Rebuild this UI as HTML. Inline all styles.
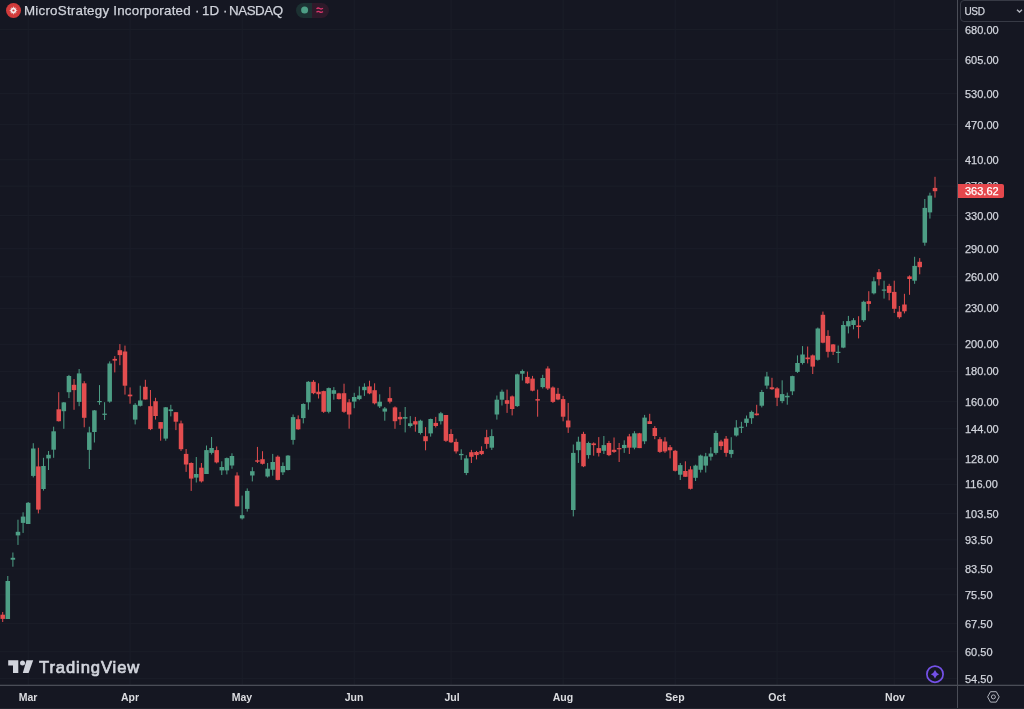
<!DOCTYPE html>
<html><head><meta charset="utf-8">
<style>
html,body{margin:0;padding:0;}
.pl,.ml,.tt,#tv,#usd,#lastp{will-change:transform;}
.pl,.tt,#usd,#lastp{-webkit-text-stroke:0.25px currentColor;}
body{width:1024px;height:709px;overflow:hidden;background:#151722;position:relative;font-family:"Liberation Sans",sans-serif;}
#chart{position:absolute;left:0;top:0;}
.pl{position:absolute;left:965px;height:14px;line-height:14px;font-size:11px;color:#d1d4dc;white-space:nowrap;}
.ml{position:absolute;top:690px;width:40px;text-align:center;height:14px;line-height:14px;font-size:10.5px;font-weight:bold;color:#dcdde1;}
#vdiv{position:absolute;left:957px;top:0;width:1px;height:709px;background:#4a4d57;}
#hdiv{position:absolute;left:0;top:685px;width:1024px;height:1px;background:#4a4d57;box-shadow:0 -1px 0 rgba(74,77,87,0.3);}
.tt{position:absolute;top:2px;height:18px;line-height:18px;font-size:13.35px;color:#d1d4dc;white-space:nowrap;}
#logoc{position:absolute;left:6px;top:2.5px;width:15px;height:15px;border-radius:50%;background:#d23b3b;}
#pill{position:absolute;left:295.5px;top:2.5px;width:33px;height:15px;border-radius:7.5px;overflow:hidden;}
#pill .a{position:absolute;left:0;top:0;width:16.5px;height:15px;background:#1c3132;}
#pill .b{position:absolute;left:16.5px;top:0;width:16.5px;height:15px;background:#2e1a2a;}
#usd{position:absolute;left:959.6px;top:0.3px;width:70px;height:21.6px;border:1px solid #373a45;border-radius:4px;box-sizing:border-box;}
#usd span{position:absolute;left:3.4px;top:4.2px;font-size:10px;letter-spacing:-0.25px;line-height:14px;color:#d1d4dc;}
#lastp{position:absolute;left:958px;top:183.5px;width:46px;height:14px;background:#e5484d;border-radius:0 2px 2px 0;}
#lastp span{position:absolute;left:7px;top:0;line-height:14px;font-size:11px;color:#fff;}
#tv{position:absolute;left:39px;top:656.8px;font-size:16.6px;font-weight:normal;-webkit-text-stroke:0.7px #d1d4dc;color:#d1d4dc;line-height:22px;letter-spacing:0.9px;}
#bstrip{position:absolute;left:0;top:708px;width:1024px;height:1px;background:#22252f;}
</style></head><body>
<svg id="chart" width="957" height="685" viewBox="0 0 957 685" >
<rect x="0" y="29.1" width="957" height="1" fill="#1b1e29"/><rect x="0" y="59.1516650668236" width="957" height="1" fill="#1b1e29"/><rect x="0" y="93.18584081610763" width="957" height="1" fill="#1b1e29"/><rect x="0" y="124.08095060629415" width="957" height="1" fill="#1b1e29"/><rect x="0" y="159.20134943302287" width="957" height="1" fill="#1b1e29"/><rect x="0" y="185.59886514957347" width="957" height="1" fill="#1b1e29"/><rect x="0" y="215.0194869549304" width="957" height="1" fill="#1b1e29"/><rect x="0" y="248.24628370501395" width="957" height="1" fill="#1b1e29"/><rect x="0" y="276.32688163381164" width="957" height="1" fill="#1b1e29"/><rect x="0" y="307.85406875985484" width="957" height="1" fill="#1b1e29"/><rect x="0" y="343.79385224162706" width="957" height="1" fill="#1b1e29"/><rect x="0" y="370.887308843037" width="957" height="1" fill="#1b1e29"/><rect x="0" y="401.17521646207604" width="957" height="1" fill="#1b1e29"/><rect x="0" y="428.268673063486" width="957" height="1" fill="#1b1e29"/><rect x="0" y="458.55658068252507" width="957" height="1" fill="#1b1e29"/><rect x="0" y="483.8704454064529" width="957" height="1" fill="#1b1e29"/><rect x="0" y="513.1903228422549" width="957" height="1" fill="#1b1e29"/><rect x="0" y="539.3193797062875" width="957" height="1" fill="#1b1e29"/><rect x="0" y="568.4068516674758" width="957" height="1" fill="#1b1e29"/><rect x="0" y="594.3054504934868" width="957" height="1" fill="#1b1e29"/><rect x="0" y="623.1075512550024" width="957" height="1" fill="#1b1e29"/><rect x="0" y="651.2614217302424" width="957" height="1" fill="#1b1e29"/><rect x="0" y="678.1188526152201" width="957" height="1" fill="#1b1e29"/><rect x="27.672677595628414" y="0" width="1" height="685" fill="#1b1e29"/><rect x="129.56338797814206" y="0" width="1" height="685" fill="#1b1e29"/><rect x="241.64316939890708" y="0" width="1" height="685" fill="#1b1e29"/><rect x="353.7229508196721" y="0" width="1" height="685" fill="#1b1e29"/><rect x="450.51912568306005" y="0" width="1" height="685" fill="#1b1e29"/><rect x="562.5989071038251" y="0" width="1" height="685" fill="#1b1e29"/><rect x="674.6786885245901" y="0" width="1" height="685" fill="#1b1e29"/><rect x="776.5693989071038" y="0" width="1" height="685" fill="#1b1e29"/><rect x="893.7437158469946" y="0" width="1" height="685" fill="#1b1e29"/><rect x="2.20" y="612.0" width="1.0" height="10.0" fill="#e34d4f" fill-opacity="1.0"/><rect x="0.45" y="614.7" width="4.5" height="4.2" fill="#e34d4f"/><rect x="7.29" y="576.0" width="1.0" height="43.0" fill="#4d9e85" fill-opacity="1.0"/><rect x="5.54" y="581.0" width="4.5" height="38.0" fill="#4d9e85"/><rect x="12.39" y="552.5" width="1.0" height="14.2" fill="#4d9e85" fill-opacity="1.0"/><rect x="10.64" y="557.8" width="4.5" height="1.9" fill="#4d9e85"/><rect x="17.48" y="519.7" width="1.0" height="25.2" fill="#4d9e85" fill-opacity="1.0"/><rect x="15.73" y="531.8" width="4.5" height="3.6" fill="#4d9e85"/><rect x="22.58" y="512.3" width="1.0" height="20.6" fill="#4d9e85" fill-opacity="1.0"/><rect x="20.83" y="516.6" width="4.5" height="6.3" fill="#4d9e85"/><rect x="27.67" y="502.0" width="1.0" height="22.0" fill="#4d9e85" fill-opacity="1.0"/><rect x="25.92" y="502.8" width="4.5" height="21.2" fill="#4d9e85"/><rect x="32.77" y="443.2" width="1.0" height="34.2" fill="#4d9e85" fill-opacity="1.0"/><rect x="31.02" y="448.5" width="4.5" height="27.4" fill="#4d9e85"/><rect x="37.86" y="447.8" width="1.0" height="65.6" fill="#e34d4f" fill-opacity="1.0"/><rect x="36.11" y="466.4" width="4.5" height="43.2" fill="#e34d4f"/><rect x="42.96" y="457.8" width="1.0" height="32.8" fill="#4d9e85" fill-opacity="1.0"/><rect x="41.21" y="466.0" width="4.5" height="23.0" fill="#4d9e85"/><rect x="48.05" y="451.0" width="1.0" height="19.0" fill="#4d9e85" fill-opacity="1.0"/><rect x="46.30" y="454.8" width="4.5" height="3.6" fill="#4d9e85"/><rect x="53.15" y="426.7" width="1.0" height="31.1" fill="#4d9e85" fill-opacity="1.0"/><rect x="51.40" y="431.3" width="4.5" height="18.4" fill="#4d9e85"/><rect x="58.24" y="392.2" width="1.0" height="29.3" fill="#e34d4f" fill-opacity="1.0"/><rect x="56.49" y="409.3" width="4.5" height="11.9" fill="#e34d4f"/><rect x="63.33" y="402.0" width="1.0" height="26.8" fill="#4d9e85" fill-opacity="1.0"/><rect x="61.58" y="402.4" width="4.5" height="8.8" fill="#4d9e85"/><rect x="68.43" y="374.9" width="1.0" height="23.2" fill="#4d9e85" fill-opacity="1.0"/><rect x="66.68" y="376.0" width="4.5" height="16.2" fill="#4d9e85"/><rect x="73.52" y="379.1" width="1.0" height="30.7" fill="#e34d4f" fill-opacity="1.0"/><rect x="71.77" y="384.8" width="4.5" height="5.3" fill="#e34d4f"/><rect x="78.62" y="369.0" width="1.0" height="37.2" fill="#4d9e85" fill-opacity="1.0"/><rect x="76.87" y="373.4" width="4.5" height="28.5" fill="#4d9e85"/><rect x="83.71" y="381.2" width="1.0" height="46.1" fill="#e34d4f" fill-opacity="1.0"/><rect x="81.96" y="383.3" width="4.5" height="34.5" fill="#e34d4f"/><rect x="88.81" y="426.7" width="1.0" height="42.3" fill="#4d9e85" fill-opacity="1.0"/><rect x="87.06" y="432.4" width="4.5" height="17.5" fill="#4d9e85"/><rect x="93.90" y="410.0" width="1.0" height="32.5" fill="#4d9e85" fill-opacity="1.0"/><rect x="92.15" y="410.4" width="4.5" height="21.6" fill="#4d9e85"/><rect x="99.00" y="385.1" width="1.0" height="19.7" fill="#4d9e85" fill-opacity="1.0"/><rect x="97.25" y="401.0" width="4.5" height="1.2" fill="#4d9e85"/><rect x="104.09" y="402.2" width="1.0" height="17.8" fill="#4d9e85" fill-opacity="1.0"/><rect x="102.34" y="413.6" width="4.5" height="1.3" fill="#4d9e85"/><rect x="109.19" y="361.4" width="1.0" height="41.3" fill="#4d9e85" fill-opacity="1.0"/><rect x="107.44" y="363.5" width="4.5" height="38.1" fill="#4d9e85"/><rect x="114.28" y="356.1" width="1.0" height="16.3" fill="#e34d4f" fill-opacity="1.0"/><rect x="112.53" y="358.9" width="4.5" height="1.7" fill="#e34d4f"/><rect x="119.37" y="344.1" width="1.0" height="21.1" fill="#e34d4f" fill-opacity="1.0"/><rect x="117.62" y="350.2" width="4.5" height="4.9" fill="#e34d4f"/><rect x="124.47" y="345.6" width="1.0" height="49.0" fill="#e34d4f" fill-opacity="1.0"/><rect x="122.72" y="351.5" width="4.5" height="34.2" fill="#e34d4f"/><rect x="129.56" y="387.4" width="1.0" height="16.3" fill="#e34d4f" fill-opacity="1.0"/><rect x="127.81" y="394.6" width="4.5" height="1.7" fill="#e34d4f"/><rect x="134.66" y="403.1" width="1.0" height="21.3" fill="#4d9e85" fill-opacity="1.0"/><rect x="132.91" y="404.8" width="4.5" height="14.8" fill="#4d9e85"/><rect x="139.75" y="385.7" width="1.0" height="20.8" fill="#4d9e85" fill-opacity="1.0"/><rect x="138.00" y="400.5" width="4.5" height="5.3" fill="#4d9e85"/><rect x="144.85" y="379.8" width="1.0" height="19.7" fill="#e34d4f" fill-opacity="1.0"/><rect x="143.10" y="386.8" width="4.5" height="12.7" fill="#e34d4f"/><rect x="149.94" y="390.0" width="1.0" height="40.1" fill="#e34d4f" fill-opacity="1.0"/><rect x="148.19" y="406.2" width="4.5" height="22.9" fill="#e34d4f"/><rect x="155.04" y="397.8" width="1.0" height="21.8" fill="#e34d4f" fill-opacity="1.0"/><rect x="153.29" y="401.2" width="4.5" height="14.8" fill="#e34d4f"/><rect x="160.13" y="422.0" width="1.0" height="18.7" fill="#e34d4f" fill-opacity="1.0"/><rect x="158.38" y="422.1" width="4.5" height="6.6" fill="#e34d4f"/><rect x="165.23" y="407.0" width="1.0" height="33.7" fill="#4d9e85" fill-opacity="1.0"/><rect x="163.48" y="407.3" width="4.5" height="31.3" fill="#4d9e85"/><rect x="170.32" y="404.8" width="1.0" height="11.6" fill="#4d9e85" fill-opacity="1.0"/><rect x="168.57" y="409.4" width="4.5" height="1.7" fill="#4d9e85"/><rect x="175.41" y="412.0" width="1.0" height="18.1" fill="#e34d4f" fill-opacity="1.0"/><rect x="173.66" y="412.2" width="4.5" height="9.5" fill="#e34d4f"/><rect x="180.51" y="420.6" width="1.0" height="30.3" fill="#e34d4f" fill-opacity="1.0"/><rect x="178.76" y="423.4" width="4.5" height="25.8" fill="#e34d4f"/><rect x="185.60" y="449.0" width="1.0" height="22.9" fill="#e34d4f" fill-opacity="1.0"/><rect x="183.85" y="453.9" width="4.5" height="10.6" fill="#e34d4f"/><rect x="190.70" y="462.4" width="1.0" height="28.5" fill="#e34d4f" fill-opacity="1.0"/><rect x="188.95" y="463.0" width="4.5" height="15.6" fill="#e34d4f"/><rect x="195.79" y="457.0" width="1.0" height="25.5" fill="#4d9e85" fill-opacity="1.0"/><rect x="194.04" y="474.0" width="4.5" height="3.6" fill="#4d9e85"/><rect x="200.89" y="463.0" width="1.0" height="19.5" fill="#e34d4f" fill-opacity="1.0"/><rect x="199.14" y="467.7" width="4.5" height="13.7" fill="#e34d4f"/><rect x="205.98" y="445.5" width="1.0" height="28.5" fill="#4d9e85" fill-opacity="1.0"/><rect x="204.23" y="450.1" width="4.5" height="23.9" fill="#4d9e85"/><rect x="211.08" y="437.0" width="1.0" height="17.5" fill="#4d9e85" fill-opacity="1.0"/><rect x="209.33" y="448.0" width="4.5" height="4.9" fill="#4d9e85"/><rect x="216.17" y="446.5" width="1.0" height="16.9" fill="#e34d4f" fill-opacity="1.0"/><rect x="214.42" y="450.1" width="4.5" height="12.3" fill="#e34d4f"/><rect x="221.27" y="461.3" width="1.0" height="13.7" fill="#4d9e85" fill-opacity="1.0"/><rect x="219.52" y="467.0" width="4.5" height="3.4" fill="#4d9e85"/><rect x="226.36" y="457.5" width="1.0" height="16.9" fill="#4d9e85" fill-opacity="1.0"/><rect x="224.61" y="458.1" width="4.5" height="12.3" fill="#4d9e85"/><rect x="231.45" y="453.3" width="1.0" height="15.4" fill="#4d9e85" fill-opacity="1.0"/><rect x="229.70" y="456.0" width="4.5" height="9.5" fill="#4d9e85"/><rect x="236.55" y="472.3" width="1.0" height="34.0" fill="#e34d4f" fill-opacity="1.0"/><rect x="234.80" y="475.5" width="4.5" height="30.8" fill="#e34d4f"/><rect x="241.64" y="495.6" width="1.0" height="23.9" fill="#4d9e85" fill-opacity="1.0"/><rect x="239.89" y="515.2" width="4.5" height="3.2" fill="#4d9e85"/><rect x="246.74" y="488.4" width="1.0" height="23.2" fill="#4d9e85" fill-opacity="1.0"/><rect x="244.99" y="490.9" width="4.5" height="18.0" fill="#4d9e85"/><rect x="251.83" y="467.2" width="1.0" height="14.2" fill="#4d9e85" fill-opacity="1.0"/><rect x="250.08" y="471.2" width="4.5" height="4.3" fill="#4d9e85"/><rect x="256.93" y="446.9" width="1.0" height="16.1" fill="#e34d4f" fill-opacity="1.0"/><rect x="255.18" y="460.3" width="4.5" height="1.4" fill="#e34d4f"/><rect x="262.02" y="451.2" width="1.0" height="13.3" fill="#e34d4f" fill-opacity="1.0"/><rect x="260.27" y="459.2" width="4.5" height="4.6" fill="#e34d4f"/><rect x="267.12" y="463.0" width="1.0" height="14.6" fill="#4d9e85" fill-opacity="1.0"/><rect x="265.37" y="468.7" width="4.5" height="7.8" fill="#4d9e85"/><rect x="272.21" y="453.9" width="1.0" height="21.8" fill="#4d9e85" fill-opacity="1.0"/><rect x="270.46" y="462.0" width="4.5" height="7.8" fill="#4d9e85"/><rect x="277.30" y="455.4" width="1.0" height="24.9" fill="#e34d4f" fill-opacity="1.0"/><rect x="275.55" y="456.7" width="4.5" height="23.2" fill="#e34d4f"/><rect x="282.40" y="462.4" width="1.0" height="12.6" fill="#4d9e85" fill-opacity="1.0"/><rect x="280.65" y="466.0" width="4.5" height="6.3" fill="#4d9e85"/><rect x="287.49" y="455.1" width="1.0" height="15.3" fill="#4d9e85" fill-opacity="1.0"/><rect x="285.74" y="455.6" width="4.5" height="14.4" fill="#4d9e85"/><rect x="292.59" y="414.5" width="1.0" height="30.1" fill="#4d9e85" fill-opacity="1.0"/><rect x="290.84" y="417.1" width="4.5" height="22.8" fill="#4d9e85"/><rect x="297.68" y="415.4" width="1.0" height="14.4" fill="#e34d4f" fill-opacity="1.0"/><rect x="295.93" y="419.2" width="4.5" height="10.1" fill="#e34d4f"/><rect x="302.78" y="403.3" width="1.0" height="20.1" fill="#4d9e85" fill-opacity="1.0"/><rect x="301.03" y="404.0" width="4.5" height="14.1" fill="#4d9e85"/><rect x="307.87" y="381.1" width="1.0" height="28.6" fill="#4d9e85" fill-opacity="1.0"/><rect x="306.12" y="381.8" width="4.5" height="20.5" fill="#4d9e85"/><rect x="312.97" y="380.1" width="1.0" height="14.1" fill="#e34d4f" fill-opacity="1.0"/><rect x="311.22" y="381.8" width="4.5" height="11.4" fill="#e34d4f"/><rect x="318.06" y="383.3" width="1.0" height="15.2" fill="#e34d4f" fill-opacity="1.0"/><rect x="316.31" y="391.7" width="4.5" height="2.5" fill="#e34d4f"/><rect x="323.16" y="390.7" width="1.0" height="22.2" fill="#e34d4f" fill-opacity="1.0"/><rect x="321.41" y="391.1" width="4.5" height="20.7" fill="#e34d4f"/><rect x="328.25" y="387.5" width="1.0" height="25.8" fill="#4d9e85" fill-opacity="1.0"/><rect x="326.50" y="388.1" width="4.5" height="23.7" fill="#4d9e85"/><rect x="333.34" y="387.1" width="1.0" height="12.6" fill="#4d9e85" fill-opacity="1.0"/><rect x="331.59" y="390.2" width="4.5" height="3.6" fill="#4d9e85"/><rect x="338.44" y="392.8" width="1.0" height="6.7" fill="#e34d4f" fill-opacity="1.0"/><rect x="336.69" y="393.4" width="4.5" height="5.7" fill="#e34d4f"/><rect x="343.53" y="383.7" width="1.0" height="29.2" fill="#e34d4f" fill-opacity="1.0"/><rect x="341.78" y="393.2" width="4.5" height="18.6" fill="#e34d4f"/><rect x="348.63" y="399.1" width="1.0" height="29.6" fill="#e34d4f" fill-opacity="1.0"/><rect x="346.88" y="402.3" width="4.5" height="12.2" fill="#e34d4f"/><rect x="353.72" y="392.8" width="1.0" height="15.4" fill="#4d9e85" fill-opacity="1.0"/><rect x="351.97" y="397.0" width="4.5" height="4.6" fill="#4d9e85"/><rect x="358.82" y="386.4" width="1.0" height="13.8" fill="#4d9e85" fill-opacity="1.0"/><rect x="357.07" y="395.5" width="4.5" height="3.6" fill="#4d9e85"/><rect x="363.91" y="383.3" width="1.0" height="12.6" fill="#4d9e85" fill-opacity="1.0"/><rect x="362.16" y="386.8" width="4.5" height="3.4" fill="#4d9e85"/><rect x="369.01" y="380.7" width="1.0" height="13.5" fill="#e34d4f" fill-opacity="1.0"/><rect x="367.26" y="386.4" width="4.5" height="7.0" fill="#e34d4f"/><rect x="374.10" y="383.3" width="1.0" height="21.1" fill="#e34d4f" fill-opacity="1.0"/><rect x="372.35" y="390.2" width="4.5" height="13.1" fill="#e34d4f"/><rect x="379.20" y="394.3" width="1.0" height="13.7" fill="#4d9e85" fill-opacity="1.0"/><rect x="377.45" y="401.7" width="4.5" height="4.7" fill="#4d9e85"/><rect x="384.29" y="407.0" width="1.0" height="13.7" fill="#4d9e85" fill-opacity="1.0"/><rect x="382.54" y="408.5" width="4.5" height="3.1" fill="#4d9e85"/><rect x="389.38" y="386.9" width="1.0" height="16.5" fill="#e34d4f" fill-opacity="1.0"/><rect x="387.63" y="398.1" width="4.5" height="3.6" fill="#e34d4f"/><rect x="394.48" y="406.4" width="1.0" height="22.4" fill="#e34d4f" fill-opacity="1.0"/><rect x="392.73" y="407.4" width="4.5" height="13.8" fill="#e34d4f"/><rect x="399.57" y="411.9" width="1.0" height="13.1" fill="#e34d4f" fill-opacity="1.0"/><rect x="397.82" y="416.9" width="4.5" height="2.4" fill="#e34d4f"/><rect x="404.67" y="407.0" width="1.0" height="25.4" fill="#4d9e85" fill-opacity="1.0"/><rect x="402.92" y="417.1" width="4.5" height="1.5" fill="#4d9e85"/><rect x="409.76" y="416.1" width="1.0" height="11.4" fill="#4d9e85" fill-opacity="1.0"/><rect x="408.01" y="423.3" width="4.5" height="2.7" fill="#4d9e85"/><rect x="414.86" y="416.9" width="1.0" height="14.8" fill="#e34d4f" fill-opacity="1.0"/><rect x="413.11" y="421.2" width="4.5" height="3.3" fill="#e34d4f"/><rect x="419.95" y="419.7" width="1.0" height="14.8" fill="#4d9e85" fill-opacity="1.0"/><rect x="418.20" y="420.7" width="4.5" height="12.3" fill="#4d9e85"/><rect x="425.05" y="427.1" width="1.0" height="23.2" fill="#e34d4f" fill-opacity="1.0"/><rect x="423.30" y="436.2" width="4.5" height="5.0" fill="#e34d4f"/><rect x="430.14" y="418.6" width="1.0" height="18.0" fill="#4d9e85" fill-opacity="1.0"/><rect x="428.39" y="419.0" width="4.5" height="14.4" fill="#4d9e85"/><rect x="435.24" y="416.9" width="1.0" height="10.6" fill="#e34d4f" fill-opacity="1.0"/><rect x="433.49" y="422.9" width="4.5" height="3.1" fill="#e34d4f"/><rect x="440.33" y="411.9" width="1.0" height="12.6" fill="#4d9e85" fill-opacity="1.0"/><rect x="438.58" y="413.3" width="4.5" height="7.9" fill="#4d9e85"/><rect x="445.42" y="415.0" width="1.0" height="26.9" fill="#e34d4f" fill-opacity="1.0"/><rect x="443.67" y="415.0" width="4.5" height="25.8" fill="#e34d4f"/><rect x="450.52" y="429.2" width="1.0" height="13.7" fill="#e34d4f" fill-opacity="1.0"/><rect x="448.77" y="434.0" width="4.5" height="8.3" fill="#e34d4f"/><rect x="455.61" y="438.7" width="1.0" height="14.8" fill="#e34d4f" fill-opacity="1.0"/><rect x="453.86" y="441.9" width="4.5" height="9.5" fill="#e34d4f"/><rect x="460.71" y="449.3" width="1.0" height="10.6" fill="#4d9e85" fill-opacity="1.0"/><rect x="458.96" y="453.9" width="4.5" height="1.3" fill="#4d9e85"/><rect x="465.80" y="455.2" width="1.0" height="19.9" fill="#4d9e85" fill-opacity="1.0"/><rect x="464.05" y="458.4" width="4.5" height="14.6" fill="#4d9e85"/><rect x="470.90" y="449.9" width="1.0" height="13.1" fill="#e34d4f" fill-opacity="1.0"/><rect x="469.15" y="452.2" width="4.5" height="4.6" fill="#e34d4f"/><rect x="475.99" y="450.9" width="1.0" height="8.5" fill="#e34d4f" fill-opacity="1.0"/><rect x="474.24" y="452.0" width="4.5" height="3.1" fill="#e34d4f"/><rect x="481.09" y="446.3" width="1.0" height="8.8" fill="#e34d4f" fill-opacity="1.0"/><rect x="479.34" y="450.9" width="4.5" height="3.2" fill="#e34d4f"/><rect x="486.18" y="429.8" width="1.0" height="19.0" fill="#e34d4f" fill-opacity="1.0"/><rect x="484.43" y="437.2" width="4.5" height="6.7" fill="#e34d4f"/><rect x="491.28" y="429.3" width="1.0" height="20.6" fill="#4d9e85" fill-opacity="1.0"/><rect x="489.53" y="436.1" width="4.5" height="11.6" fill="#4d9e85"/><rect x="496.37" y="395.5" width="1.0" height="24.1" fill="#4d9e85" fill-opacity="1.0"/><rect x="494.62" y="399.7" width="4.5" height="14.8" fill="#4d9e85"/><rect x="501.46" y="389.6" width="1.0" height="15.9" fill="#4d9e85" fill-opacity="1.0"/><rect x="499.71" y="391.7" width="4.5" height="8.0" fill="#4d9e85"/><rect x="506.56" y="389.6" width="1.0" height="23.3" fill="#e34d4f" fill-opacity="1.0"/><rect x="504.81" y="400.2" width="4.5" height="3.6" fill="#e34d4f"/><rect x="511.65" y="395.5" width="1.0" height="19.9" fill="#e34d4f" fill-opacity="1.0"/><rect x="509.90" y="396.4" width="4.5" height="12.6" fill="#e34d4f"/><rect x="516.75" y="373.7" width="1.0" height="33.2" fill="#4d9e85" fill-opacity="1.0"/><rect x="515.00" y="374.4" width="4.5" height="31.7" fill="#4d9e85"/><rect x="521.84" y="369.5" width="1.0" height="11.0" fill="#4d9e85" fill-opacity="1.0"/><rect x="520.09" y="371.0" width="4.5" height="2.7" fill="#4d9e85"/><rect x="526.94" y="371.6" width="1.0" height="12.1" fill="#e34d4f" fill-opacity="1.0"/><rect x="525.19" y="376.9" width="4.5" height="6.4" fill="#e34d4f"/><rect x="532.03" y="375.9" width="1.0" height="15.4" fill="#e34d4f" fill-opacity="1.0"/><rect x="530.28" y="378.6" width="4.5" height="12.1" fill="#e34d4f"/><rect x="537.13" y="389.6" width="1.0" height="27.1" fill="#e34d4f" fill-opacity="1.0"/><rect x="535.38" y="399.1" width="4.5" height="1.5" fill="#e34d4f"/><rect x="542.22" y="374.8" width="1.0" height="13.7" fill="#4d9e85" fill-opacity="1.0"/><rect x="540.47" y="378.0" width="4.5" height="9.1" fill="#4d9e85"/><rect x="547.32" y="366.3" width="1.0" height="23.7" fill="#e34d4f" fill-opacity="1.0"/><rect x="545.57" y="368.5" width="4.5" height="20.0" fill="#e34d4f"/><rect x="552.41" y="386.4" width="1.0" height="16.5" fill="#e34d4f" fill-opacity="1.0"/><rect x="550.66" y="387.5" width="4.5" height="14.4" fill="#e34d4f"/><rect x="557.50" y="387.9" width="1.0" height="12.3" fill="#e34d4f" fill-opacity="1.0"/><rect x="555.75" y="393.8" width="4.5" height="5.7" fill="#e34d4f"/><rect x="562.60" y="395.9" width="1.0" height="25.4" fill="#e34d4f" fill-opacity="1.0"/><rect x="560.85" y="399.1" width="4.5" height="17.6" fill="#e34d4f"/><rect x="567.69" y="402.9" width="1.0" height="30.0" fill="#e34d4f" fill-opacity="1.0"/><rect x="565.94" y="420.5" width="4.5" height="6.9" fill="#e34d4f"/><rect x="572.79" y="444.5" width="1.0" height="71.9" fill="#4d9e85" fill-opacity="1.0"/><rect x="571.04" y="452.9" width="4.5" height="57.1" fill="#4d9e85"/><rect x="577.88" y="436.7" width="1.0" height="26.2" fill="#4d9e85" fill-opacity="1.0"/><rect x="576.13" y="441.7" width="4.5" height="8.5" fill="#4d9e85"/><rect x="582.98" y="431.8" width="1.0" height="35.3" fill="#e34d4f" fill-opacity="1.0"/><rect x="581.23" y="433.9" width="4.5" height="32.4" fill="#e34d4f"/><rect x="588.07" y="441.7" width="1.0" height="16.9" fill="#4d9e85" fill-opacity="1.0"/><rect x="586.32" y="443.0" width="4.5" height="12.1" fill="#4d9e85"/><rect x="593.17" y="442.4" width="1.0" height="13.3" fill="#e34d4f" fill-opacity="1.0"/><rect x="591.42" y="443.4" width="4.5" height="1.7" fill="#e34d4f"/><rect x="598.26" y="437.1" width="1.0" height="19.4" fill="#e34d4f" fill-opacity="1.0"/><rect x="596.51" y="448.1" width="4.5" height="4.8" fill="#e34d4f"/><rect x="603.36" y="436.0" width="1.0" height="18.0" fill="#4d9e85" fill-opacity="1.0"/><rect x="601.61" y="445.1" width="4.5" height="5.7" fill="#4d9e85"/><rect x="608.45" y="440.9" width="1.0" height="15.2" fill="#e34d4f" fill-opacity="1.0"/><rect x="606.70" y="443.0" width="4.5" height="12.1" fill="#e34d4f"/><rect x="613.54" y="437.5" width="1.0" height="15.4" fill="#e34d4f" fill-opacity="1.0"/><rect x="611.79" y="449.8" width="4.5" height="2.1" fill="#e34d4f"/><rect x="618.64" y="443.0" width="1.0" height="19.0" fill="#e34d4f" fill-opacity="1.0"/><rect x="616.89" y="448.1" width="4.5" height="1.2" fill="#e34d4f"/><rect x="623.73" y="440.3" width="1.0" height="12.6" fill="#4d9e85" fill-opacity="1.0"/><rect x="621.98" y="444.9" width="4.5" height="3.2" fill="#4d9e85"/><rect x="628.83" y="433.9" width="1.0" height="20.1" fill="#e34d4f" fill-opacity="1.0"/><rect x="627.08" y="436.4" width="4.5" height="11.3" fill="#e34d4f"/><rect x="633.92" y="431.2" width="1.0" height="18.1" fill="#4d9e85" fill-opacity="1.0"/><rect x="632.17" y="433.3" width="4.5" height="14.4" fill="#4d9e85"/><rect x="639.02" y="432.9" width="1.0" height="15.2" fill="#e34d4f" fill-opacity="1.0"/><rect x="637.27" y="433.3" width="4.5" height="14.8" fill="#e34d4f"/><rect x="644.11" y="414.9" width="1.0" height="29.2" fill="#4d9e85" fill-opacity="1.0"/><rect x="642.36" y="417.6" width="4.5" height="23.7" fill="#4d9e85"/><rect x="649.21" y="413.8" width="1.0" height="10.2" fill="#e34d4f" fill-opacity="1.0"/><rect x="647.46" y="421.2" width="4.5" height="2.8" fill="#e34d4f"/><rect x="654.30" y="426.1" width="1.0" height="13.1" fill="#e34d4f" fill-opacity="1.0"/><rect x="652.55" y="428.0" width="4.5" height="8.0" fill="#e34d4f"/><rect x="659.40" y="437.1" width="1.0" height="15.8" fill="#e34d4f" fill-opacity="1.0"/><rect x="657.65" y="439.2" width="4.5" height="12.7" fill="#e34d4f"/><rect x="664.49" y="437.2" width="1.0" height="15.7" fill="#e34d4f" fill-opacity="1.0"/><rect x="662.74" y="441.5" width="4.5" height="9.9" fill="#e34d4f"/><rect x="669.58" y="445.0" width="1.0" height="13.4" fill="#e34d4f" fill-opacity="1.0"/><rect x="667.83" y="447.2" width="4.5" height="3.1" fill="#e34d4f"/><rect x="674.68" y="449.9" width="1.0" height="21.6" fill="#e34d4f" fill-opacity="1.0"/><rect x="672.93" y="450.8" width="4.5" height="20.0" fill="#e34d4f"/><rect x="679.77" y="463.0" width="1.0" height="17.0" fill="#4d9e85" fill-opacity="1.0"/><rect x="678.02" y="465.1" width="4.5" height="9.6" fill="#4d9e85"/><rect x="684.87" y="461.3" width="1.0" height="15.5" fill="#e34d4f" fill-opacity="1.0"/><rect x="683.12" y="471.0" width="4.5" height="5.8" fill="#e34d4f"/><rect x="689.96" y="466.2" width="1.0" height="23.3" fill="#e34d4f" fill-opacity="1.0"/><rect x="688.21" y="469.4" width="4.5" height="19.4" fill="#e34d4f"/><rect x="695.06" y="464.7" width="1.0" height="16.3" fill="#4d9e85" fill-opacity="1.0"/><rect x="693.31" y="465.6" width="4.5" height="12.2" fill="#4d9e85"/><rect x="700.15" y="454.6" width="1.0" height="17.9" fill="#4d9e85" fill-opacity="1.0"/><rect x="698.40" y="455.6" width="4.5" height="14.2" fill="#4d9e85"/><rect x="705.25" y="452.9" width="1.0" height="19.6" fill="#4d9e85" fill-opacity="1.0"/><rect x="703.50" y="456.3" width="4.5" height="9.3" fill="#4d9e85"/><rect x="710.34" y="447.2" width="1.0" height="13.3" fill="#4d9e85" fill-opacity="1.0"/><rect x="708.59" y="453.5" width="4.5" height="3.2" fill="#4d9e85"/><rect x="715.43" y="430.7" width="1.0" height="23.9" fill="#4d9e85" fill-opacity="1.0"/><rect x="713.68" y="433.0" width="4.5" height="19.9" fill="#4d9e85"/><rect x="720.53" y="439.8" width="1.0" height="10.1" fill="#e34d4f" fill-opacity="1.0"/><rect x="718.78" y="441.5" width="4.5" height="4.6" fill="#e34d4f"/><rect x="725.62" y="436.0" width="1.0" height="20.7" fill="#e34d4f" fill-opacity="1.0"/><rect x="723.87" y="438.7" width="4.5" height="14.2" fill="#e34d4f"/><rect x="730.72" y="437.2" width="1.0" height="20.5" fill="#4d9e85" fill-opacity="1.0"/><rect x="728.97" y="449.9" width="4.5" height="4.2" fill="#4d9e85"/><rect x="735.81" y="420.1" width="1.0" height="16.5" fill="#4d9e85" fill-opacity="1.0"/><rect x="734.06" y="427.5" width="4.5" height="8.0" fill="#4d9e85"/><rect x="740.91" y="421.8" width="1.0" height="11.2" fill="#4d9e85" fill-opacity="1.0"/><rect x="739.16" y="426.7" width="4.5" height="1.2" fill="#4d9e85"/><rect x="746.00" y="415.5" width="1.0" height="11.2" fill="#4d9e85" fill-opacity="1.0"/><rect x="744.25" y="418.6" width="4.5" height="4.3" fill="#4d9e85"/><rect x="751.10" y="410.6" width="1.0" height="13.3" fill="#4d9e85" fill-opacity="1.0"/><rect x="749.35" y="411.9" width="4.5" height="6.3" fill="#4d9e85"/><rect x="756.19" y="404.8" width="1.0" height="10.7" fill="#e34d4f" fill-opacity="1.0"/><rect x="754.44" y="413.5" width="4.5" height="1.7" fill="#e34d4f"/><rect x="761.29" y="389.9" width="1.0" height="17.5" fill="#4d9e85" fill-opacity="1.0"/><rect x="759.54" y="392.0" width="4.5" height="13.7" fill="#4d9e85"/><rect x="766.38" y="371.9" width="1.0" height="16.9" fill="#4d9e85" fill-opacity="1.0"/><rect x="764.63" y="376.5" width="4.5" height="9.1" fill="#4d9e85"/><rect x="771.47" y="377.8" width="1.0" height="12.1" fill="#e34d4f" fill-opacity="1.0"/><rect x="769.72" y="387.3" width="4.5" height="1.9" fill="#e34d4f"/><rect x="776.57" y="387.1" width="1.0" height="19.0" fill="#e34d4f" fill-opacity="1.0"/><rect x="774.82" y="388.4" width="4.5" height="9.3" fill="#e34d4f"/><rect x="781.66" y="380.3" width="1.0" height="22.9" fill="#4d9e85" fill-opacity="1.0"/><rect x="779.91" y="394.1" width="4.5" height="7.0" fill="#4d9e85"/><rect x="786.76" y="392.6" width="1.0" height="12.1" fill="#4d9e85" fill-opacity="1.0"/><rect x="785.01" y="395.8" width="4.5" height="1.5" fill="#4d9e85"/><rect x="791.85" y="375.7" width="1.0" height="19.4" fill="#4d9e85" fill-opacity="1.0"/><rect x="790.10" y="376.1" width="4.5" height="15.2" fill="#4d9e85"/><rect x="796.95" y="355.4" width="1.0" height="17.5" fill="#4d9e85" fill-opacity="1.0"/><rect x="795.20" y="363.0" width="4.5" height="8.9" fill="#4d9e85"/><rect x="802.04" y="346.1" width="1.0" height="18.4" fill="#4d9e85" fill-opacity="1.0"/><rect x="800.29" y="354.5" width="4.5" height="8.5" fill="#4d9e85"/><rect x="807.14" y="346.5" width="1.0" height="16.9" fill="#e34d4f" fill-opacity="1.0"/><rect x="805.39" y="357.5" width="4.5" height="1.7" fill="#e34d4f"/><rect x="812.23" y="354.5" width="1.0" height="19.5" fill="#e34d4f" fill-opacity="1.0"/><rect x="810.48" y="355.4" width="4.5" height="11.2" fill="#e34d4f"/><rect x="817.33" y="327.5" width="1.0" height="33.2" fill="#4d9e85" fill-opacity="1.0"/><rect x="815.58" y="328.5" width="4.5" height="31.3" fill="#4d9e85"/><rect x="822.42" y="311.6" width="1.0" height="31.7" fill="#e34d4f" fill-opacity="1.0"/><rect x="820.67" y="314.8" width="4.5" height="27.9" fill="#e34d4f"/><rect x="827.51" y="330.2" width="1.0" height="27.3" fill="#e34d4f" fill-opacity="1.0"/><rect x="825.76" y="335.9" width="4.5" height="15.9" fill="#e34d4f"/><rect x="832.61" y="344.0" width="1.0" height="11.0" fill="#e34d4f" fill-opacity="1.0"/><rect x="830.86" y="344.4" width="4.5" height="7.4" fill="#e34d4f"/><rect x="837.70" y="345.5" width="1.0" height="17.5" fill="#4d9e85" fill-opacity="1.0"/><rect x="835.95" y="351.8" width="4.5" height="1.2" fill="#4d9e85"/><rect x="842.80" y="321.1" width="1.0" height="27.1" fill="#4d9e85" fill-opacity="1.0"/><rect x="841.05" y="325.0" width="4.5" height="22.6" fill="#4d9e85"/><rect x="847.89" y="315.9" width="1.0" height="17.5" fill="#4d9e85" fill-opacity="1.0"/><rect x="846.14" y="321.1" width="4.5" height="5.3" fill="#4d9e85"/><rect x="852.99" y="318.1" width="1.0" height="11.2" fill="#4d9e85" fill-opacity="1.0"/><rect x="851.24" y="320.2" width="4.5" height="4.8" fill="#4d9e85"/><rect x="858.08" y="316.2" width="1.0" height="22.2" fill="#e34d4f" fill-opacity="1.0"/><rect x="856.33" y="325.5" width="4.5" height="1.5" fill="#e34d4f"/><rect x="863.18" y="300.7" width="1.0" height="21.2" fill="#4d9e85" fill-opacity="1.0"/><rect x="861.43" y="301.8" width="4.5" height="18.4" fill="#4d9e85"/><rect x="868.27" y="291.2" width="1.0" height="20.1" fill="#e34d4f" fill-opacity="1.0"/><rect x="866.52" y="301.2" width="4.5" height="2.7" fill="#e34d4f"/><rect x="873.37" y="277.1" width="1.0" height="17.3" fill="#4d9e85" fill-opacity="1.0"/><rect x="871.62" y="281.3" width="4.5" height="12.0" fill="#4d9e85"/><rect x="878.46" y="269.0" width="1.0" height="16.5" fill="#e34d4f" fill-opacity="1.0"/><rect x="876.71" y="272.2" width="4.5" height="7.0" fill="#e34d4f"/><rect x="883.55" y="280.7" width="1.0" height="17.9" fill="#4d9e85" fill-opacity="1.0"/><rect x="881.80" y="289.5" width="4.5" height="1.2" fill="#4d9e85"/><rect x="888.65" y="283.8" width="1.0" height="16.5" fill="#e34d4f" fill-opacity="1.0"/><rect x="886.90" y="285.9" width="4.5" height="7.0" fill="#e34d4f"/><rect x="893.74" y="280.7" width="1.0" height="32.3" fill="#e34d4f" fill-opacity="1.0"/><rect x="891.99" y="291.9" width="4.5" height="16.9" fill="#e34d4f"/><rect x="898.84" y="306.0" width="1.0" height="12.7" fill="#e34d4f" fill-opacity="1.0"/><rect x="897.09" y="311.7" width="4.5" height="5.5" fill="#e34d4f"/><rect x="903.93" y="293.8" width="1.0" height="19.6" fill="#e34d4f" fill-opacity="1.0"/><rect x="902.18" y="304.5" width="4.5" height="6.8" fill="#e34d4f"/><rect x="909.03" y="275.4" width="1.0" height="19.4" fill="#e34d4f" fill-opacity="1.0"/><rect x="907.28" y="276.4" width="4.5" height="2.6" fill="#e34d4f"/><rect x="914.12" y="256.8" width="1.0" height="27.0" fill="#4d9e85" fill-opacity="1.0"/><rect x="912.37" y="265.9" width="4.5" height="14.8" fill="#4d9e85"/><rect x="919.22" y="258.1" width="1.0" height="16.2" fill="#e34d4f" fill-opacity="1.0"/><rect x="917.47" y="261.8" width="4.5" height="5.4" fill="#e34d4f"/><rect x="924.31" y="199.0" width="1.0" height="46.7" fill="#4d9e85" fill-opacity="1.0"/><rect x="922.56" y="207.9" width="4.5" height="34.8" fill="#4d9e85"/><rect x="929.41" y="192.7" width="1.0" height="25.9" fill="#4d9e85" fill-opacity="1.0"/><rect x="927.66" y="195.6" width="4.5" height="16.8" fill="#4d9e85"/><rect x="934.50" y="176.8" width="1.0" height="20.8" fill="#e34d4f" fill-opacity="1.0"/><rect x="932.75" y="187.9" width="4.5" height="3.3" fill="#e34d4f"/>
</svg>
<div id="vdiv"></div><div id="hdiv"></div>
<div class="pl" style="top:22.6px">680.00</div><div class="pl" style="top:52.7px">605.00</div><div class="pl" style="top:86.7px">530.00</div><div class="pl" style="top:117.6px">470.00</div><div class="pl" style="top:152.7px">410.00</div><div class="pl" style="top:179.1px">370.00</div><div class="pl" style="top:208.5px">330.00</div><div class="pl" style="top:241.7px">290.00</div><div class="pl" style="top:269.8px">260.00</div><div class="pl" style="top:301.4px">230.00</div><div class="pl" style="top:337.3px">200.00</div><div class="pl" style="top:364.4px">180.00</div><div class="pl" style="top:394.7px">160.00</div><div class="pl" style="top:421.8px">144.00</div><div class="pl" style="top:452.1px">128.00</div><div class="pl" style="top:477.4px">116.00</div><div class="pl" style="top:506.7px">103.50</div><div class="pl" style="top:532.8px">93.50</div><div class="pl" style="top:561.9px">83.50</div><div class="pl" style="top:587.8px">75.50</div><div class="pl" style="top:616.6px">67.50</div><div class="pl" style="top:644.8px">60.50</div><div class="pl" style="top:671.6px">54.50</div>
<div id="lastp"><span>363.62</span></div>
<div class="ml" style="left:8.2px">Mar</div><div class="ml" style="left:110.0px">Apr</div><div class="ml" style="left:222.3px">May</div><div class="ml" style="left:334.3px">Jun</div><div class="ml" style="left:431.5px">Jul</div><div class="ml" style="left:543.2px">Aug</div><div class="ml" style="left:655.3px">Sep</div><div class="ml" style="left:757.3px">Oct</div><div class="ml" style="left:874.5px">Nov</div>
<div id="logoc"></div>
<svg style="position:absolute;left:6px;top:2.5px" width="15" height="15" viewBox="0 0 15 15"><g fill="#f4eaea"><circle cx="7.45" cy="7.5" r="2.75"/><path d="M11.95 7.50L9.65 8.05L9.65 6.95ZM10.83 9.45L9.08 9.08L9.63 8.12ZM9.40 10.88L8.07 9.68L9.03 9.13ZM7.45 12.00L6.90 9.70L8.00 9.70ZM5.50 10.88L5.87 9.13L6.83 9.68ZM4.07 9.45L5.27 8.12L5.82 9.08ZM2.95 7.50L5.25 6.95L5.25 8.05ZM4.07 5.55L5.82 5.92L5.27 6.88ZM5.50 4.12L6.83 5.32L5.87 5.87ZM7.45 3.00L8.00 5.30L6.90 5.30ZM9.40 4.12L9.03 5.87L8.07 5.32ZM10.83 5.55L9.63 6.88L9.08 5.92Z"/></g><circle cx="7.45" cy="7.5" r="1.1" fill="#d23b3b"/></svg>
<div class="tt" style="left:23.6px;letter-spacing:0.23px">MicroStrategy Incorporated</div><div class="tt" style="left:195px">·</div><div class="tt" style="left:201.7px">1D</div><div class="tt" style="left:222.5px">·</div><div class="tt" style="left:228.8px;letter-spacing:-0.45px">NASDAQ</div>
<div id="pill"><div class="a"></div><div class="b"></div></div>
<svg style="position:absolute;left:295.5px;top:2.5px" width="33" height="15" viewBox="0 0 33 15"><circle cx="8.6" cy="7.1" r="3.5" fill="#4d9e85"/><path d="M20.5 5.9 q1.5 -1.6 3.2 -0.4 t3.2 -0.4 M20.5 9.3 q1.5 -1.6 3.2 -0.4 t3.2 -0.4" stroke="#d8366b" stroke-width="1.3" fill="none"/></svg>
<div id="usd"><span>USD</span></div>
<svg style="position:absolute;left:1016px;top:9px" width="7" height="4" viewBox="0 0 7 4"><path d="M1 0.8 L3.5 3.1 L6 0.8" stroke="#b2b5be" stroke-width="1.4" fill="none"/></svg>
<svg style="position:absolute;left:8px;top:660px" width="26" height="14" viewBox="0 0 26 14"><path d="M0.2 0.3 H10.3 V13.1 H5 V5.6 H0.2Z" fill="#d1d4dc"/><circle cx="14.5" cy="3.1" r="2.5" fill="#d1d4dc"/><path d="M18.5 0.3 H25.2 L20.6 13.1 H14.8Z" fill="#d1d4dc"/></svg>
<div id="tv">TradingView</div>
<svg style="position:absolute;left:925px;top:664px" width="20" height="20" viewBox="0 0 20 20"><circle cx="10" cy="10.2" r="8.1" stroke="#7451e8" stroke-width="1.7" fill="none"/><path d="M10 6 Q11.1 9.1 14.2 10.2 Q11.1 11.3 10 14.4 Q8.9 11.3 5.8 10.2 Q8.9 9.1 10 6Z" fill="#7451e8"/></svg>
<svg style="position:absolute;left:986px;top:690px" width="15" height="14" viewBox="0 0 15 14"><path d="M4.5 1.7 H10.3 L13.2 6.9 L10.3 12.1 H4.5 L1.6 6.9Z" stroke="#b2b5be" stroke-width="1" fill="none"/><circle cx="7.4" cy="6.9" r="2" stroke="#b2b5be" stroke-width="1" fill="none"/></svg>
<div id="bstrip"></div>
</body></html>
